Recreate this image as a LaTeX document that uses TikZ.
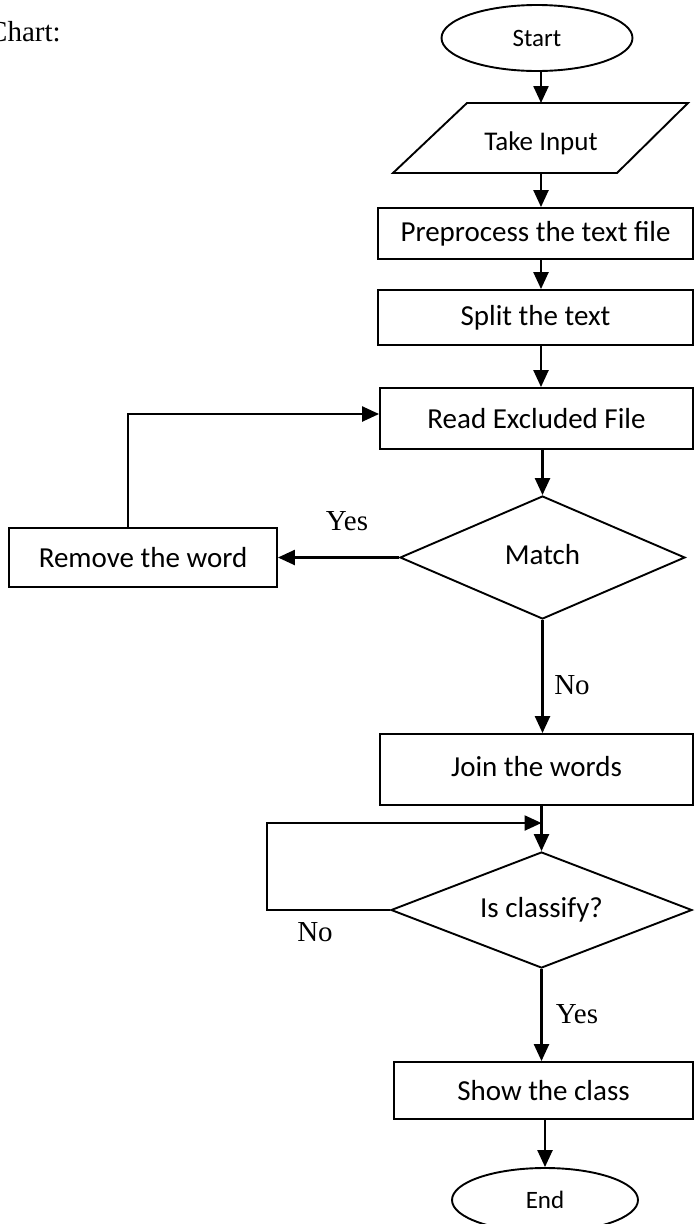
\documentclass[tikz,border=0pt]{standalone}
\usepackage{fontspec}
\setmainfont{Liberation Serif}
\newfontfamily\boxfont{Carlito}
\usetikzlibrary{shapes.geometric,arrows.meta}
\begin{document}
\begin{tikzpicture}[x=1pt,y=-1pt,
  outl/.style={draw,line width=1.9pt},
  procbox/.style={outl,rectangle,inner sep=0pt,font=\boxfont\fontsize{29}{32}\selectfont},
  termbox/.style={outl,ellipse,inner sep=0pt,font=\boxfont\fontsize{25}{28}\selectfont},
  decbox/.style={outl,diamond,inner sep=0pt,aspect=2.4,font=\boxfont\fontsize{29}{32}\selectfont},
  lbl/.style={inner sep=0pt,font=\fontsize{29}{32}\selectfont},
  arr/.style={line width=2.4pt,-{Triangle[length=17pt,width=15pt]}}
]
\useasboundingbox (0,0) rectangle (694,1224);

% title
\node[lbl,anchor=base west] (title) at (-12,41) {Chart:};

% nodes
\node[termbox,minimum width=191pt,minimum height=66pt] (start) at (537,38) {Start};

\coordinate (inpT) at (541,103);
\coordinate (inpB) at (541,173);
\draw[outl,line join=miter] (467,103) -- (688,103) -- (617,173) -- (393,173) -- cycle;
\node[inner sep=0pt,anchor=base,font=\boxfont\fontsize{27}{30}\selectfont] (inp) at (541,150) {Take Input};

\node[procbox,minimum width=315pt,minimum height=51pt] (pre) at (535.5,233.5) {Preprocess the text file};
\node[procbox,minimum width=315pt,minimum height=55pt] (split) at (535.5,317.5) {Split the text};
\node[procbox,minimum width=313pt,minimum height=61pt] (read) at (536.5,418.5) {Read Excluded File};
\node[decbox,minimum width=285pt,minimum height=123pt] (match) at (542.5,557.5) {\raisebox{6pt}{Match}};
\node[procbox,minimum width=268pt,minimum height=59pt] (rm) at (143,557.5) {Remove the word};
\node[procbox,minimum width=313pt,minimum height=71pt] (join) at (536.5,769.5) {\raisebox{6pt}{Join the words}};
\node[decbox,minimum width=301pt,minimum height=116pt] (isc) at (541.5,910) {\raisebox{3pt}{Is classify?}};
\node[procbox,minimum width=299pt,minimum height=57pt] (show) at (543.5,1090.5) {Show the class};
\node[termbox,minimum width=186pt,minimum height=64pt] (end) at (545,1200) {End};

% labels
\node[lbl] (yes1) at (347,521) {Yes};
\node[lbl] (no1) at (572,685) {No};
\node[lbl] (no2) at (315,932) {No};
\node[lbl] (yes2) at (577,1014) {Yes};

% connectors
\draw[arr] (start.south -| inpT) -- (inpT);
\draw[arr] (inpB) -- (inpB |- pre.north);
\draw[arr] (pre.south -| inpB) -- (inpB |- split.north);
\draw[arr] (split.south -| inpB) -- (inpB |- read.north);
\draw[arr] (read.south -| match.north) -- (match.north);
\draw[arr] (match.west) -- (rm.east);
\coordinate (rl) at (128,414);
\draw[arr] (rm.north -| rl) -- (rl) -- (rl -| read.west);
\draw[arr] (match.south) -- (match.south |- join.north);
\draw[arr] (join.south -| isc.north) -- (isc.north);
\coordinate (cl) at (267,823);
\draw[arr] (isc.west) -- (cl |- isc.west) -- (cl) -- (cl -| isc.north);
\draw[arr] (isc.south) -- (isc.south |- show.north);
\draw[arr] (show.south -| end.north) -- (end.north);
\end{tikzpicture}
\end{document}
